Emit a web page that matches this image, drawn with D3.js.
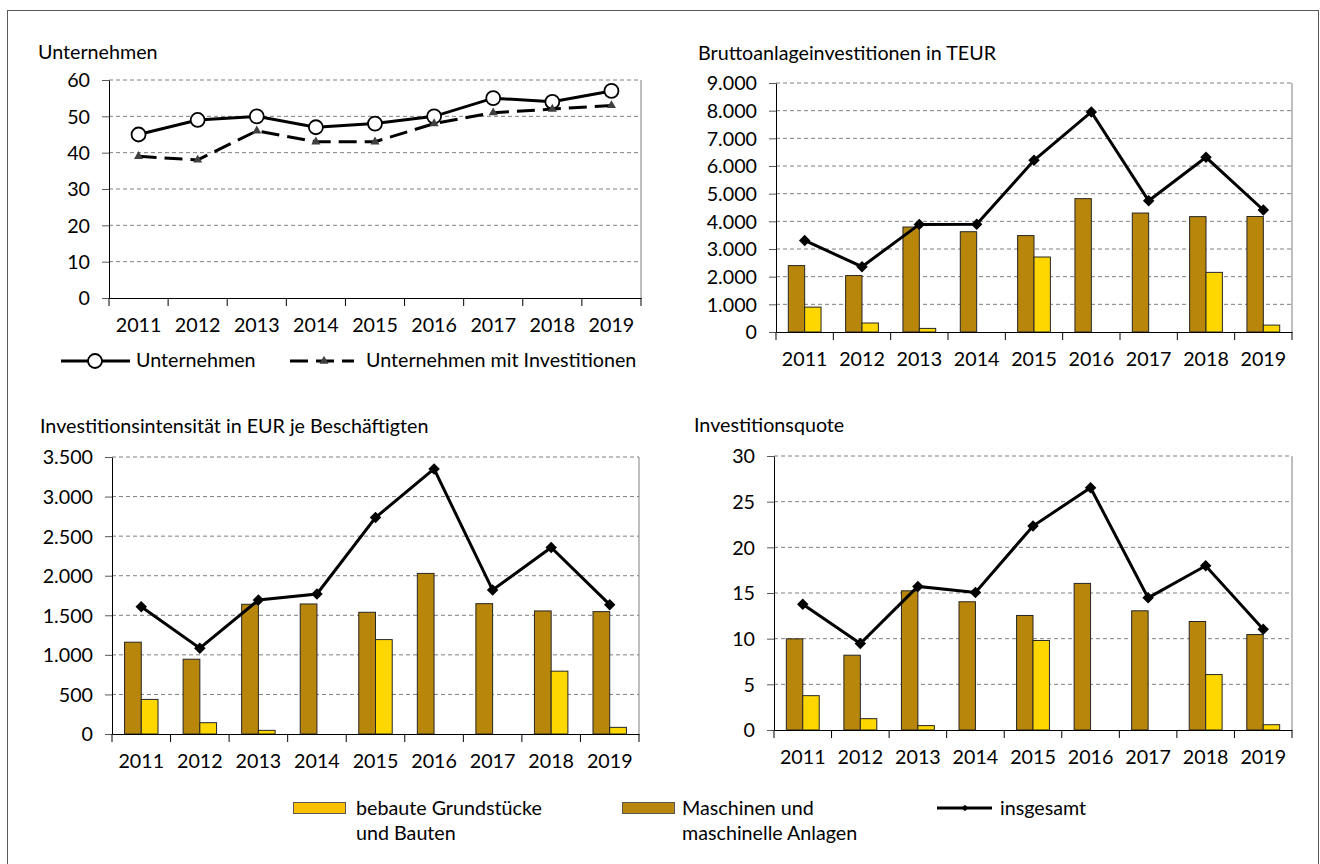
<!DOCTYPE html>
<html>
<head>
<meta charset="utf-8">
<script src="https://cdn.jsdelivr.net/npm/d3@7"></script>
<style>
  body { margin: 0; background: #fff; }
  svg { display: block; font-family: Lato, "Noto Sans", sans-serif; }
</style>
</head>
<body>
<svg id="chart" width="1320" height="864"></svg>
<script>
// categories
const years = ["2011", "2012", "2013", "2014", "2015", "2016", "2017", "2018", "2019"];

// Unternehmen (Anzahl)
const unternehmen = [45, 49, 50, 47, 48, 50, 55, 54, 57];
const unternehmenMitInv = [39, 38, 46, 43, 43, 48, 51, 52, 53];

// Bruttoanlageinvestitionen in TEUR
const bruttoBauten = [900, 325, 130, 0, 2710, 0, 0, 2155, 250];
const bruttoMaschinen = [2400, 2040, 3795, 3625, 3485, 4820, 4300, 4170, 4175];
const bruttoGesamt = [3310, 2360, 3890, 3895, 6205, 7955, 4745, 6315, 4410];

// Investitionsintensitaet in EUR je Beschaeftigten
const intensBauten = [437, 143, 46, 0, 1193, 0, 0, 794, 84];
const intensMaschinen = [1160, 945, 1639, 1643, 1538, 2029, 1647, 1555, 1546];
const intensGesamt = [1609, 1084, 1693, 1769, 2735, 3349, 1819, 2357, 1634];

// Investitionsquote
const quoteBauten = [3.76, 1.24, 0.48, 0, 9.8, 0, 0, 6.07, 0.58];
const quoteMaschinen = [9.98, 8.19, 15.24, 14.04, 12.54, 16.05, 13.05, 11.88, 10.45];
const quoteGesamt = [13.78, 9.47, 15.72, 15.06, 22.33, 26.53, 14.47, 17.98, 11.04];

const FS = 19.7;
const FONT = "Lato, 'Noto Sans', sans-serif";
const colBauten = "#FFD700";
const colBautenLegend = "#FFC000";
const colMaschinen = "#B8860B";

const svg = d3.select("#chart");
const fmt = d3.formatLocale({ decimal: ",", thousands: ".", grouping: [3], currency: ["", " €"] }).format(",");

// outer frame
svg.append("rect")
  .attr("x", 7.5).attr("y", 10.5).attr("width", 1311).attr("height", 900)
  .attr("fill", "none").attr("stroke", "#595959");

function diamond() {
  return d3.symbol().type(d3.symbolSquare).size(66)();
}

function drawPanel(p) {
  const x = d3.scaleBand().domain(years).range([p.left, p.right]);
  const y = d3.scaleLinear().domain([0, p.max]).range([p.bottom, p.top]);
  const ticks = d3.range(0, p.max + p.step / 2, p.step);
  const g = svg.append("g");

  // title
  g.append("text")
    .attr("x", p.titleX).attr("y", p.titleY)
    .attr("font-size", FS).text(p.title);

  // dashed grid lines
  g.selectAll(".grid").data(ticks.filter(t => t > 0)).enter().append("line")
    .attr("class", "grid")
    .attr("x1", p.left).attr("x2", p.right)
    .attr("y1", d => y(d)).attr("y2", d => y(d))
    .attr("stroke", "#7f7f7f").attr("stroke-dasharray", "4,3");

  // right border of plot area
  g.append("line")
    .attr("x1", p.right).attr("x2", p.right)
    .attr("y1", p.top).attr("y2", p.bottom)
    .attr("stroke", "#7f7f7f");

  // y axis
  const ya = g.append("g")
    .attr("transform", `translate(${p.left},0)`)
    .call(d3.axisLeft(y).tickValues(ticks).tickSize(7).tickSizeOuter(0).tickPadding(12).tickFormat(fmt));
  ya.attr("font-family", FONT).attr("font-size", FS);
  ya.select(".domain").attr("stroke", "#000");
  ya.selectAll(".tick line").attr("stroke", "#595959");
  ya.selectAll("text").attr("fill", "#000").attr("dy", "0.35em");

  // bars
  if (p.bars) {
    const inner = d3.scaleBand().domain(["m", "b"]).range([0, x.bandwidth()]).paddingOuter(0.75);
    const series = [
      { key: "m", values: p.bars[0], color: colMaschinen },
      { key: "b", values: p.bars[1], color: colBauten }
    ];
    series.forEach(s => {
      g.selectAll(".bar-" + s.key)
        .data(s.values.map((v, i) => ({ year: years[i], v })).filter(d => d.v > 0))
        .enter().append("rect")
        .attr("class", "bar-" + s.key)
        .attr("x", d => x(d.year) + inner(s.key))
        .attr("width", inner.bandwidth())
        .attr("y", d => y(d.v))
        .attr("height", d => y(0) - y(d.v))
        .attr("fill", s.color)
        .attr("stroke", "#262626").attr("stroke-width", 1);
    });
  }

  // x axis
  const xa = g.append("g")
    .attr("transform", `translate(0,${p.bottom})`)
    .call(d3.axisBottom(x).tickSize(0).tickSizeOuter(0));
  xa.attr("font-family", FONT).attr("font-size", FS);
  xa.select(".domain").attr("stroke", "#000");
  xa.selectAll("text").attr("fill", "#000").attr("y", 33.5).attr("dy", 0);
  g.selectAll(".xtick").data(d3.range(years.length + 1)).enter().append("line")
    .attr("x1", i => p.left + i * x.step()).attr("x2", i => p.left + i * x.step())
    .attr("y1", p.bottom).attr("y2", p.bottom + 8)
    .attr("stroke", "#000");

  // lines
  const cx = i => x(years[i]) + x.bandwidth() / 2;
  (p.lines || []).forEach(l => {
    g.append("path")
      .datum(l.values)
      .attr("d", d3.line().x((d, i) => cx(i)).y(d => y(d)))
      .attr("fill", "none")
      .attr("stroke", "#000")
      .attr("stroke-width", 3)
      .attr("stroke-dasharray", l.dash || null);
    const m = g.selectAll(null).data(l.values).enter();
    if (l.marker === "circle") {
      m.append("circle")
        .attr("cx", (d, i) => cx(i)).attr("cy", d => y(d)).attr("r", 7)
        .attr("fill", "#fff").attr("stroke", "#000").attr("stroke-width", 1.8);
    } else if (l.marker === "triangle") {
      m.append("path")
        .attr("d", d3.symbol().type(d3.symbolTriangle).size(36)())
        .attr("transform", (d, i) => `translate(${cx(i)},${y(d)})`)
        .attr("fill", "#404040");
    } else {
      m.append("path")
        .attr("d", diamond())
        .attr("transform", (d, i) => `translate(${cx(i)},${y(d)}) rotate(45)`)
        .attr("fill", "#000");
    }
  });
}

drawPanel({
  left: 109, right: 641, top: 80, bottom: 298, max: 60, step: 10,
  title: "Unternehmen", titleX: 38, titleY: 59,
  lines: [
    { values: unternehmen, marker: "circle" },
    { values: unternehmenMitInv, marker: "triangle", dash: "18,8" }
  ]
});

drawPanel({
  left: 776, right: 1292, top: 83, bottom: 332, max: 9000, step: 1000,
  title: "Bruttoanlageinvestitionen in TEUR", titleX: 698, titleY: 60,
  bars: [bruttoMaschinen, bruttoBauten],
  lines: [{ values: bruttoGesamt, marker: "diamond" }]
});

drawPanel({
  left: 112, right: 639, top: 457, bottom: 734, max: 3500, step: 500,
  title: "Investitionsintensität in EUR je Beschäftigten", titleX: 40, titleY: 433,
  bars: [intensMaschinen, intensBauten],
  lines: [{ values: intensGesamt, marker: "diamond" }]
});

drawPanel({
  left: 774, right: 1292, top: 456, bottom: 730, max: 30, step: 5,
  title: "Investitionsquote", titleX: 694, titleY: 432,
  bars: [quoteMaschinen, quoteBauten],
  lines: [{ values: quoteGesamt, marker: "diamond" }]
});

// legend of the first panel
const lg1 = svg.append("g").attr("font-size", FS);
lg1.append("line").attr("x1", 61).attr("x2", 130).attr("y1", 361).attr("y2", 361)
  .attr("stroke", "#000").attr("stroke-width", 3);
lg1.append("circle").attr("cx", 95).attr("cy", 361).attr("r", 7)
  .attr("fill", "#fff").attr("stroke", "#000").attr("stroke-width", 1.8);
lg1.append("text").attr("x", 136).attr("y", 367).text("Unternehmen");
lg1.append("line").attr("x1", 290).attr("x2", 354).attr("y1", 361).attr("y2", 361)
  .attr("stroke", "#000").attr("stroke-width", 3).attr("stroke-dasharray", "18,8");
lg1.append("path").attr("d", d3.symbol().type(d3.symbolTriangle).size(36)())
  .attr("transform", "translate(324,361)").attr("fill", "#404040");
lg1.append("text").attr("x", 366).attr("y", 367).text("Unternehmen mit Investitionen");

// common legend for the bar panels
const lg2 = svg.append("g").attr("font-size", FS);
lg2.append("rect").attr("x", 293.5).attr("y", 802.5).attr("width", 52).attr("height", 11)
  .attr("fill", colBautenLegend).attr("stroke", "#595959");
lg2.append("text").attr("x", 356).attr("y", 815).text("bebaute Grundstücke");
lg2.append("text").attr("x", 356).attr("y", 840).text("und Bauten");
lg2.append("rect").attr("x", 622.5).attr("y", 802.5).attr("width", 52).attr("height", 11)
  .attr("fill", colMaschinen).attr("stroke", "#595959");
lg2.append("text").attr("x", 682).attr("y", 815).text("Maschinen und");
lg2.append("text").attr("x", 682).attr("y", 840).text("maschinelle Anlagen");
lg2.append("line").attr("x1", 937).attr("x2", 992).attr("y1", 808).attr("y2", 808)
  .attr("stroke", "#000").attr("stroke-width", 3);
lg2.append("path").attr("d", d3.symbol().type(d3.symbolSquare).size(20)())
  .attr("transform", "translate(965,808) rotate(45)").attr("fill", "#000");
lg2.append("text").attr("x", 1000).attr("y", 815).text("insgesamt");
</script>
</body>
</html>
